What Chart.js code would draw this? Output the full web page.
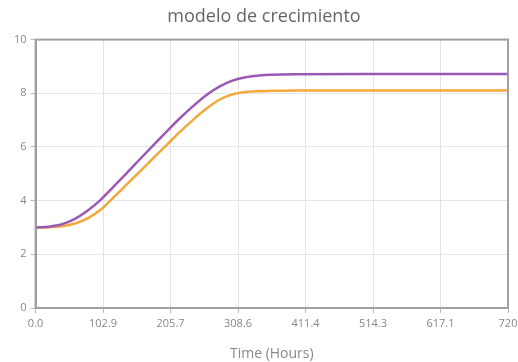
<!DOCTYPE html>
<html>
<head>
<meta charset="utf-8">
<script src="https://cdn.jsdelivr.net/npm/chart.js@4/dist/chart.umd.min.js"></script>
<style>
  html, body { margin: 0; padding: 0; background: #fff; }
  #wrap { width: 518px; height: 362px; }
</style>
</head>
<body>
<div id="wrap"><canvas id="growth-chart" width="518" height="362"></canvas></div>
<script>
// Time in hours
const hours = [0, 20, 40, 60, 80, 100, 120, 140, 160, 180, 200, 220, 240, 260, 280, 300, 320, 340, 360, 400, 500, 600, 720];

// Series
const purpleSeries = [3.00, 3.03, 3.12, 3.32, 3.64, 4.05, 4.55, 5.05, 5.57, 6.08, 6.58, 7.07, 7.52, 7.93, 8.25, 8.47, 8.60, 8.66, 8.69, 8.71, 8.72, 8.72, 8.72];
const orangeSeries = [3.00, 3.01, 3.05, 3.15, 3.35, 3.68, 4.15, 4.63, 5.11, 5.60, 6.08, 6.56, 7.01, 7.42, 7.76, 7.96, 8.05, 8.08, 8.09, 8.10, 8.10, 8.10, 8.10];

// Axis ticks
const xTickValues = [0, 102.857, 205.714, 308.571, 411.429, 514.286, 617.143, 720];
const xTickLabels = ['0.0', '102.9', '205.7', '308.6', '411.4', '514.3', '617.1', '720'];
const yTickValues = [0, 2, 4, 6, 8, 10];

const FONT = "'Open Sans', 'DejaVu Sans', sans-serif";

const toPoints = (ys) => hours.map((h, i) => ({ x: h, y: ys[i] }));

// Draws the dark frame around the plot area
const frame = {
  id: 'frame',
  afterDraw(chart) {
    const { ctx, chartArea: a } = chart;
    ctx.save();
    ctx.strokeStyle = '#a0a0a0';
    ctx.lineWidth = 2;
    ctx.strokeRect(a.left, a.top, a.right - a.left, a.bottom - a.top);
    ctx.restore();
  }
};

new Chart(document.getElementById('growth-chart'), {
  type: 'line',
  data: {
    datasets: [
      {
        data: toPoints(purpleSeries),
        borderColor: '#9b59b6',
        borderWidth: 2.5,
        pointRadius: 0,
        cubicInterpolationMode: 'monotone',
        fill: false,
      },
      {
        data: toPoints(orangeSeries),
        borderColor: '#f5a83a',
        borderWidth: 2.5,
        pointRadius: 0,
        cubicInterpolationMode: 'monotone',
        fill: false,
      },
    ],
  },
  options: {
    responsive: false,
    animation: false,
    layout: { padding: { left: 10, right: 0, top: 2, bottom: 0 } },
    plugins: {
      legend: { display: false },
      tooltip: { enabled: false },
      title: {
        display: true,
        text: 'modelo de crecimiento',
        color: '#666',
        font: { family: FONT, size: 18, weight: 'normal' },
        padding: { top: 4, bottom: 12 },
      },
    },
    scales: {
      x: {
        type: 'linear',
        min: 0,
        max: 720,
        afterBuildTicks: (axis) => { axis.ticks = xTickValues.map(v => ({ value: v })); },
        // let the plot run closer to the right edge, like the original
        afterFit: (axis) => { axis.paddingRight = 10; },
        ticks: {
          color: '#888',
          font: { family: FONT, size: 11 },
          maxRotation: 0,
          padding: 4,
          callback: (v, i) => xTickLabels[i],
        },
        grid: { color: '#e4e4e4', lineWidth: 1, tickLength: 5, tickColor: '#bbb' },
        border: { color: '#a0a0a0', width: 2 },
        title: {
          display: true,
          text: 'Time (Hours)',
          color: '#888',
          font: { family: FONT, size: 14 },
          padding: { top: 11, bottom: 0 },
        },
      },
      y: {
        min: 0,
        max: 10,
        afterBuildTicks: (axis) => { axis.ticks = yTickValues.map(v => ({ value: v })); },
        ticks: {
          color: '#888',
          font: { family: FONT, size: 11 },
          padding: 4,
        },
        grid: { color: '#e4e4e4', lineWidth: 1, tickLength: 5, tickColor: '#bbb' },
        border: { color: '#a0a0a0', width: 2 },
      },
    },
  },
  plugins: [frame],
});
</script>
</body>
</html>
